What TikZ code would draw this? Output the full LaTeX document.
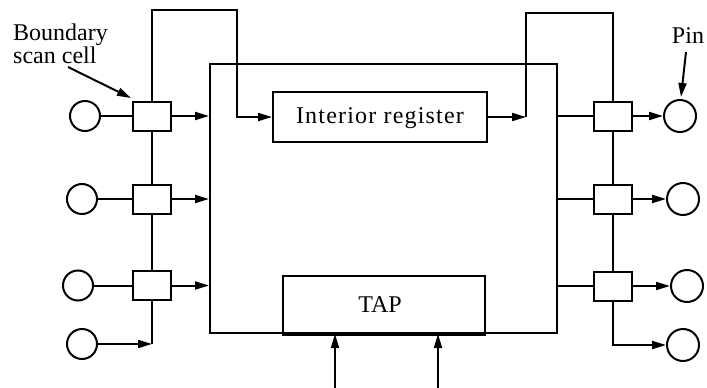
\documentclass[tikz,border=0pt]{standalone}
\usepackage{fontspec}
\setmainfont{Liberation Serif}
\newfontfamily\widefont[LetterSpace=5]{Liberation Serif}
\usetikzlibrary{arrows.meta}
\begin{document}
\begin{tikzpicture}[x=1pt,y=-1pt,
  every node/.style={inner sep=0pt},
  wire/.style={line width=2pt},
  arr/.style={wire,-{Triangle[length=14pt,width=8pt]}},
  pin/.style={circle,draw,line width=2pt,minimum size=30pt},
  cell/.style={rectangle,draw,line width=2pt,minimum width=38pt,minimum height=29pt},
  block/.style={rectangle,draw,line width=2pt},
  lbl/.style={font=\fontsize{24}{23}\selectfont}]
\useasboundingbox (0,0) rectangle (707,388);
% core
\node[block,minimum width=347pt,minimum height=269pt] (core) at (383.5,198.5) {};
\node[block,minimum width=214pt,minimum height=50pt] (ireg) at (380,117) {};
\node[lbl] (iregt) at (380,118) {\widefont Interior register};
\node[block,minimum width=202pt,minimum height=57pt] (tap) at (384,304.5) {};
\node[lbl] (tapt) at (380,305) {TAP};
\draw[line width=3.5pt] (tap.south west) -- (tap.south east);
% left pins and cells
\node[pin] (pinL1) at (85,116) {};
\node[pin] (pinL2) at (82,199) {};
\node[pin] (pinL3) at (78,285.5) {};
\node[pin] (pinL4) at (82,344) {};
\node[cell] (cellL1) at (152,116) {};
\node[cell] (cellL2) at (152,199) {};
\node[cell] (cellL3) at (152,285.5) {};
% right pins and cells
\node[cell] (cellR1) at (613,116) {};
\node[cell] (cellR2) at (613,199) {};
\node[cell] (cellR3) at (613,286) {};
\node[pin,minimum size=32pt] (pinR1) at (680,116) {};
\node[pin,minimum size=32pt] (pinR2) at (683,199) {};
\node[pin,minimum size=32pt] (pinR3) at (687,286) {};
\node[pin,minimum size=32pt] (pinR4) at (683,345) {};
% labels
\node[lbl,align=left,anchor=north west] (bsc) at (13,24) {Boundary\\scan cell};
\node[lbl] (pinlbl) at (688,36) {Pin};
\coordinate (bscA) at (68,67);
\coordinate (bscB) at (131,98);
\coordinate (pinA) at (686,52);
\coordinate (pinB) at (681,97);
\draw[arr] (bscA) -- (bscB);
\draw[arr] (pinA) -- (pinB);
% left connections
\draw[wire] (pinL1) -- (cellL1);
\draw[wire] (pinL2) -- (cellL2);
\draw[wire] (pinL3) -- (cellL3);
\draw[arr] (cellL1.east) -- (core.west |- cellL1.east);
\draw[arr] (cellL2.east) -- (core.west |- cellL2.east);
\draw[arr] (cellL3.east) -- (core.west |- cellL3.east);
\draw[wire] (cellL1.south) -- (cellL2.north);
\draw[wire] (cellL2.south) -- (cellL3.north);
\coordinate (jL) at (cellL3.south |- pinL4.center);
\draw[wire] (cellL3.south) -- (jL);
\draw[arr] (pinL4) -- (jL);
\coordinate (wireL) at (237,10);
\draw[arr] (cellL1.north) |- (wireL) |- (ireg.west);
% right connections
\coordinate (wireR) at (526,13);
\draw[arr] (ireg.east) -- (ireg.east -| wireR);
\draw[wire] (ireg.east -| wireR) -- (wireR) -| (cellR1.north);
\draw[wire] (core.east |- cellR1.west) -- (cellR1.west);
\draw[wire] (core.east |- cellR2.west) -- (cellR2.west);
\draw[wire] (core.east |- cellR3.west) -- (cellR3.west);
\draw[arr] (cellR1.east) -- (pinR1);
\draw[arr] (cellR2.east) -- (pinR2);
\draw[arr] (cellR3.east) -- (pinR3);
\draw[wire] (cellR1.south) -- (cellR2.north);
\draw[wire] (cellR2.south) -- (cellR3.north);
\draw[arr] (cellR3.south) |- (pinR4);
% TAP inputs
\coordinate (t1) at (335,388);
\coordinate (t2) at (438,388);
\draw[arr] (t1) -- (t1 |- tap.south);
\draw[arr] (t2) -- (t2 |- tap.south);
\end{tikzpicture}
\end{document}
